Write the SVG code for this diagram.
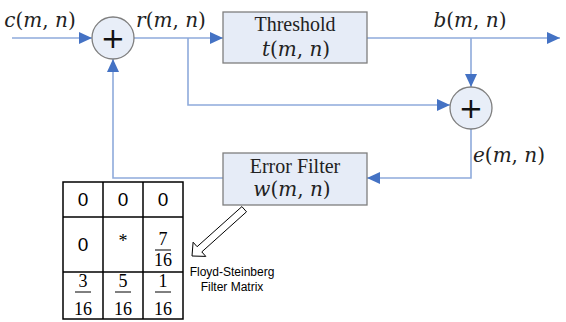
<svg xmlns="http://www.w3.org/2000/svg" width="566" height="322" viewBox="0 0 566 322">
  <style>
    .wire { fill: none; stroke: #8eaadb; stroke-width: 1.6; }
    .box { fill: #e6ecf7; stroke: #7f7f7f; stroke-width: 1.3; }
    .sum { fill: #e8eef8; stroke: #7f7f7f; stroke-width: 1.3; }
    .plus { font-family: "DejaVu Sans", sans-serif; font-size: 29px; fill: #111; text-anchor: middle; }
    .title { font-family: "Liberation Serif", serif; font-size: 20px; fill: #222; text-anchor: middle; }
    .math { font-family: "DejaVu Serif", serif; font-size: 20px; font-style: italic; fill: #222; text-anchor: middle; }
    .up { font-style: normal; }
    .grid { fill: none; stroke: #000; stroke-width: 1.5; }
    .cell { font-family: "Liberation Sans", sans-serif; font-size: 19px; fill: #000; text-anchor: middle; }
    .frac { font-family: "Liberation Serif", serif; font-size: 18px; fill: #000; text-anchor: middle; }
    .bar { stroke: #000; stroke-width: 1; }
    .note { font-family: "Liberation Sans", sans-serif; font-size: 12px; fill: #000; text-anchor: middle; }
  </style>
  <defs>
    <marker id="arrow" markerUnits="userSpaceOnUse" markerWidth="14" markerHeight="12" refX="13" refY="6" orient="auto">
      <path d="M0,0 L13,6 L0,12 Z" fill="#4472c4"/>
    </marker>
  </defs>

  <!-- signal flow -->
  <g id="connectors">
    <path class="wire" d="M12,38 H92" marker-end="url(#arrow)"/>
    <path class="wire" d="M134,38 H223" marker-end="url(#arrow)"/>
    <path class="wire" d="M367,38 H560" marker-end="url(#arrow)"/>
    <path class="wire" d="M471,38 V87" marker-end="url(#arrow)"/>
    <path class="wire" d="M188,38 V105 H450" marker-end="url(#arrow)"/>
    <path class="wire" d="M471,129 V178 H367" marker-end="url(#arrow)"/>
    <path class="wire" d="M223,178 H113 V59" marker-end="url(#arrow)"/>
  </g>

  <!-- signal labels -->
  <g id="labels">
    <text class="math" x="40" y="27">c<tspan class="up">(</tspan>m<tspan class="up">, </tspan>n<tspan class="up">)</tspan></text>
    <text class="math" x="171" y="27">r<tspan class="up">(</tspan>m<tspan class="up">, </tspan>n<tspan class="up">)</tspan></text>
    <text class="math" x="470" y="27">b<tspan class="up">(</tspan>m<tspan class="up">, </tspan>n<tspan class="up">)</tspan></text>
    <text class="math" x="509" y="162">e<tspan class="up">(</tspan>m<tspan class="up">, </tspan>n<tspan class="up">)</tspan></text>
  </g>

  <g id="sum1">
    <circle class="sum" cx="113" cy="38" r="21"/>
    <text class="plus" x="113" y="48">+</text>
  </g>

  <g id="sum2">
    <circle class="sum" cx="471" cy="108" r="21"/>
    <text class="plus" x="471" y="118">+</text>
  </g>

  <g id="threshold">
    <rect class="box" x="223" y="12" width="144" height="51"/>
    <text class="title" x="295" y="31">Threshold</text>
    <text class="math" x="296" y="56">t<tspan class="up">(</tspan>m<tspan class="up">, </tspan>n<tspan class="up">)</tspan></text>
  </g>

  <g id="error-filter">
    <rect class="box" x="223" y="153" width="144" height="52"/>
    <text class="title" x="295" y="173">Error Filter</text>
    <text class="math" x="292" y="196">w<tspan class="up">(</tspan>m<tspan class="up">, </tspan>n<tspan class="up">)</tspan></text>
  </g>

  <!-- hollow pointer from the filter to its matrix -->
  <g id="pointer">
    <polygon points="241.9,206.6 197.1,246.7 193.1,242.2 192,256 205.8,256.4 201.8,251.9 246.5,211.8" fill="#fff" stroke="#000" stroke-width="1"/>
  </g>

  <g id="filter-matrix">
    <rect class="grid" x="63" y="182" width="120" height="137"/>
    <line class="grid" x1="103" y1="182" x2="103" y2="319"/>
    <line class="grid" x1="143" y1="182" x2="143" y2="319"/>
    <line class="grid" x1="63" y1="217" x2="183" y2="217"/>
    <line class="grid" x1="63" y1="272" x2="183" y2="272"/>

    <text class="cell" x="83" y="206">0</text>
    <text class="cell" x="123" y="206">0</text>
    <text class="cell" x="163" y="206">0</text>

    <text class="cell" x="83" y="251">0</text>
    <text class="frac" x="123" y="247">*</text>
    <text class="frac" x="163" y="245">7</text>
    <line class="bar" x1="155" y1="250" x2="171" y2="250"/>
    <text class="frac" x="163" y="266">16</text>

    <text class="frac" x="83" y="287">3</text>
    <line class="bar" x1="75" y1="292" x2="91" y2="292"/>
    <text class="frac" x="83" y="315">16</text>
    <text class="frac" x="123" y="287">5</text>
    <line class="bar" x1="115" y1="292" x2="131" y2="292"/>
    <text class="frac" x="123" y="315">16</text>
    <text class="frac" x="163" y="287">1</text>
    <line class="bar" x1="155" y1="292" x2="171" y2="292"/>
    <text class="frac" x="163" y="315">16</text>
  </g>

  <g id="matrix-caption">
    <text class="note" x="232" y="276">Floyd-Steinberg</text>
    <text class="note" x="232" y="291">Filter Matrix</text>
  </g>
</svg>
